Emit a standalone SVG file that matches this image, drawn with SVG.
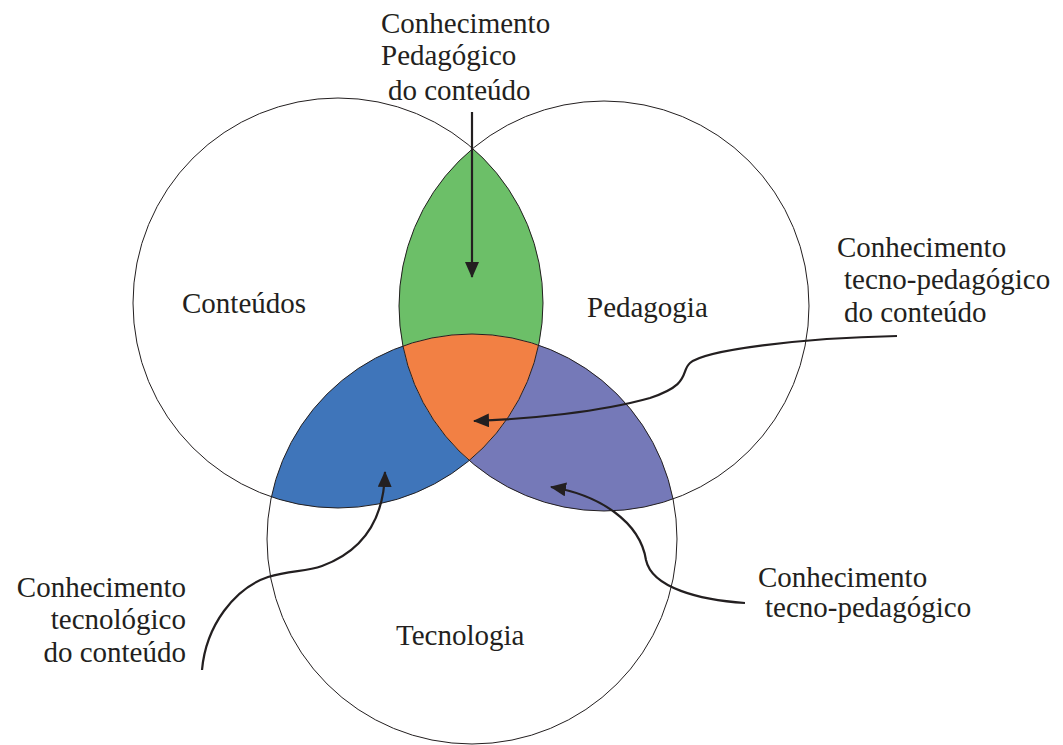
<svg xmlns="http://www.w3.org/2000/svg" width="1063" height="745" viewBox="0 0 1063 745">
<defs>
<style>
.lbl{font-family:"Liberation Serif","Times New Roman",serif;font-size:29px;fill:#231f20}
.ring{fill:none;stroke:#231f20;stroke-width:1}
.reg{stroke:none}
.conn{fill:none;stroke:#231f20;stroke-width:2.2;marker-end:url(#ah)}
</style>
<marker id="ah" viewBox="0 0 16 14" refX="15" refY="7" markerWidth="16" markerHeight="14" markerUnits="userSpaceOnUse" orient="auto">
<path d="M0 0 L16 7 L0 14 Z" fill="#231f20"/>
</marker>
</defs>
<rect width="1063" height="745" fill="#ffffff"/>
<g id="regions">
<path id="blue" class="reg" fill="#3f75ba" d="M271.4 496.9 A205 205 0 0 1 402.9 346.0 A205 205 0 0 0 469.2 460.5 A205 205 0 0 1 271.4 496.9 Z"/>
<path id="purple" class="reg" fill="#7579b8" d="M538.6 345.1 A205 205 0 0 1 673.1 499.0 A205 205 0 0 1 469.2 460.5 A205 205 0 0 0 538.6 345.1 Z"/>
<path id="green" class="reg" fill="#6cbf68" d="M472.8 148.5 A205 205 0 0 0 402.9 346.0 A205 205 0 0 1 538.6 345.1 A205 205 0 0 0 472.8 148.5 Z"/>
<path id="orange" class="reg" fill="#f28044" d="M402.9 346.0 A205 205 0 0 1 538.6 345.1 A205 205 0 0 1 469.2 460.5 A205 205 0 0 1 402.9 346.0 Z"/>
</g>
<g id="node-conteudos">
<circle class="ring" cx="338" cy="303" r="205"/>
<text class="lbl" x="182" y="313">Conteúdos</text>
</g>
<g id="node-pedagogia">
<circle class="ring" cx="604" cy="306" r="205"/>
<text class="lbl" x="587" y="317">Pedagogia</text>
</g>
<g id="node-tecnologia">
<circle class="ring" cx="472" cy="539" r="205"/>
<text class="lbl" x="396" y="645">Tecnologia</text>
</g>
<g id="label-cpc">
<text class="lbl" x="381" y="33">Conhecimento</text>
<text class="lbl" x="381" y="65">Pedagógico</text>
<text class="lbl" x="388" y="100">do conteúdo</text>
</g>
<g id="label-ctpc">
<text class="lbl" x="837" y="257">Conhecimento</text>
<text class="lbl" x="844" y="289">tecno-pedagógico</text>
<text class="lbl" x="844" y="322">do conteúdo</text>
</g>
<g id="label-ctc">
<text class="lbl" x="186" y="597" text-anchor="end">Conhecimento</text>
<text class="lbl" x="186" y="629" text-anchor="end">tecnológico</text>
<text class="lbl" x="186" y="662" text-anchor="end">do conteúdo</text>
</g>
<g id="label-ctp">
<text class="lbl" x="758" y="587">Conhecimento</text>
<text class="lbl" x="765" y="617">tecno-pedagógico</text>
</g>
<g id="connectors">
<path class="conn" d="M472 112 L472 277"/>
<path class="conn" d="M897 336 C800 338 705 350 690 363 C680 372 692 384 650 398 C600 412 530 419 474 421"/>
<path class="conn" d="M202 670 C206 625 235 588 268 577 C290 570 305 572 322 566 C360 552 384 522 385 472"/>
<path class="conn" d="M745 603 C700 600 652 588 646 560 C640 522 600 495 551 487"/>
</g>
</svg>
